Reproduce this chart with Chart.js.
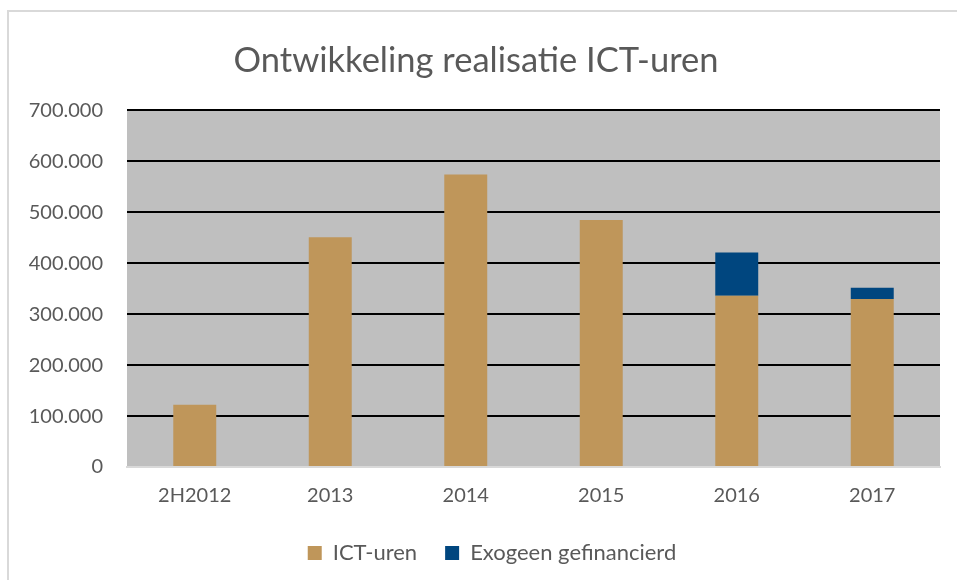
<!DOCTYPE html>
<html>
<head>
<meta charset="utf-8">
<script src="https://cdn.jsdelivr.net/npm/chart.js@4/dist/chart.umd.min.js"></script>
<style>
  html, body { margin: 0; padding: 0; background: #fff; }
  #wrap { position: relative; width: 957px; height: 580px; overflow: hidden; }
  #rand { position: absolute; left: 7px; top: 10px; width: 960px; height: 580px;
          border-top: 2px solid #d9d9d9; border-left: 2px solid #d9d9d9; }
  #grafiek { position: absolute; left: 0; top: 0; }
</style>
</head>
<body>
<div id="wrap">
  <div id="rand"></div>
  <canvas id="grafiek" width="957" height="580"></canvas>
</div>
<script>
// gegevens
const jaren = ["2H2012", "2013", "2014", "2015", "2016", "2017"]
const ictUren = [122000, 451000, 574000, 485000, 336000, 330000]
const exogeen = [null, null, null, null, 85000, 22000]

const kleurIct = "#BF965A"
const kleurExo = "#00467F"
const tekstKleur = "#595959"

function puntNotatie(waarde) {
  return String(waarde).replace(/\B(?=(\d{3})+(?!\d))/g, ".")
}

// grijze achtergrond van het plotvlak
const achtergrond = {
  id: "achtergrond",
  beforeDraw(chart) {
    const { ctx, chartArea } = chart
    ctx.save()
    ctx.fillStyle = "#BFBFBF"
    ctx.fillRect(chartArea.left, chartArea.top, chartArea.right - chartArea.left, chartArea.bottom - chartArea.top)
    ctx.restore()
  },
}

// titel en legenda iets naar rechts, zoals in het origineel
const verschuiving = {
  id: "verschuiving",
  afterLayout(chart) {
    if (chart.titleBlock) {
      chart.titleBlock.left += 6
      chart.titleBlock.right += 6
    }
    if (chart.legend) {
      chart.legend.left += 22
      chart.legend.right += 22
    }
  },
}

const ctx = document.getElementById("grafiek").getContext("2d")
new Chart(ctx, {
  type: "bar",
  data: {
    labels: jaren,
    datasets: [
      { label: "ICT-uren", data: ictUren, backgroundColor: kleurIct },
      { label: "Exogeen gefinancierd", data: exogeen, backgroundColor: kleurExo },
    ],
  },
  options: {
    responsive: false,
    animation: false,
    layout: { padding: { left: 0, right: 17, top: 0, bottom: 6 } },
    datasets: { bar: { categoryPercentage: 1, barPercentage: 0.317 } },
    scales: {
      x: {
        stacked: true,
        afterFit(scale) { scale.height = 47 },
        grid: { display: false, drawTicks: false },
        border: { display: true, color: "#d9d9d9", width: 2 },
        ticks: { color: tekstKleur, padding: 17, font: { family: "Lato", size: 20 } },
      },
      y: {
        stacked: true,
        min: 0,
        max: 700000,
        afterFit(scale) { scale.width = 127 },
        grid: {
          drawTicks: false,
          lineWidth: 2,
          color: (c) => (c.tick && c.tick.value === 0 ? "#d9d9d9" : "#000000"),
        },
        border: { display: false },
        ticks: {
          stepSize: 100000,
          color: tekstKleur,
          padding: 24,
          font: { family: "Lato", size: 20 },
          callback: (v) => puntNotatie(v),
        },
      },
    },
    plugins: {
      title: {
        display: true,
        text: "Ontwikkeling realisatie ICT-uren",
        color: tekstKleur,
        font: { family: "Lato", size: 34.5, weight: "normal" },
        padding: { top: 40, bottom: 29 },
      },
      legend: {
        position: "bottom",
        labels: {
          color: tekstKleur,
          boxWidth: 14,
          boxHeight: 14,
          padding: 28,
          font: { family: "Lato", size: 22 },
        },
      },
      tooltip: { enabled: false },
    },
  },
  plugins: [achtergrond, verschuiving],
})
</script>
</body>
</html>
